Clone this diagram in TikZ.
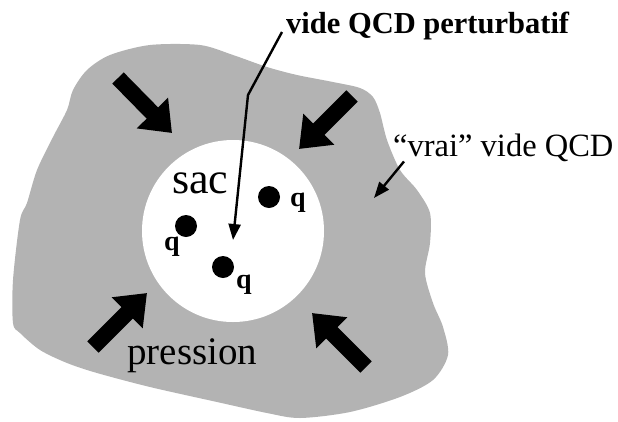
\documentclass[tikz,border=0pt]{standalone}
\usepackage{fontspec}
\setmainfont{Liberation Serif}
\usetikzlibrary{arrows.meta}
\definecolor{vacgray}{RGB}{179,179,179}

\begin{document}
\begin{tikzpicture}[x=1pt,y=-1pt,
		fatarrow/.style={line width=16pt, -{Triangle[width=42pt,length=28pt]}},
		thinarrow/.style={line width=2.4pt, -{Triangle[width=12pt,length=16pt]}},
		biglabel/.style={anchor=base west, inner sep=0, font=\fontsize{39}{41}\selectfont},
		qlabel/.style={anchor=base west, inner sep=0, font=\fontsize{28}{30}\selectfont\bfseries}]
	\useasboundingbox (0,0) rectangle (618,421);
	% vrai vide
	\fill[vacgray] plot[smooth cycle, tension=0.5] coordinates {
		(87,70) (110,55) (150,45) (200,45) (233,55) (267,67) (297,75) (333,82)
		(360,88) (373,97) (380,113) (387,140) (400,170) (417,190) (430,213)
		(430,243) (425,273) (433,303) (443,327) (448,355) (433,380) (400,397)
		(350,412) (300,418) (267,413) (217,402) (150,387) (97,373) (67,363)
		(40,350) (20,333) (13,323) (13,280) (20,220) (27,203) (37,170)
		(53,137) (67,110) (73,90)};
	% sac
	\fill[white] (233,231) circle[radius=91pt];
	% pression
	\foreach \ax/\ay/\bx/\by in {118/78/172/133, 352/96/299/149, 93/347/147/293, 366/367/312/313}
		{
			\draw[fatarrow] (\ax,\ay) -- (\bx,\by);
		}
	\foreach \x/\y/\lx/\ly [count=\i] in {269/197/290/206, 186/226/164/250, 223/267/236/288}
		{
			\fill (\x,\y) circle[radius=11pt];
			\node[qlabel] (q\i) at (\lx,\ly) {q};
		}
	\node[biglabel, font=\fontsize{44}{46}\selectfont] (sac) at (172,193) {sac};
	\node[biglabel] (pression) at (127,364) {pression};
	\node[anchor=base west, inner sep=0, font=\fontsize{30.5}{32}\selectfont\bfseries] (pert) at (286,33) {vide QCD perturbatif};
	\node[anchor=base west, inner sep=0, font=\fontsize{32.5}{34}\selectfont] (vrai) at (393,156) {``vrai'' vide QCD};
	\coordinate (bend) at (248,95);
	\coordinate (vacpt) at (233,240);
	\coordinate (vraipt) at (374,198);
	\draw[thinarrow] ([xshift=-4pt,yshift=1pt]pert.base west) -- (bend) -- (vacpt);
	\draw[thinarrow] ([xshift=11pt]vrai.south west) -- (vraipt);
\end{tikzpicture}
\end{document}
